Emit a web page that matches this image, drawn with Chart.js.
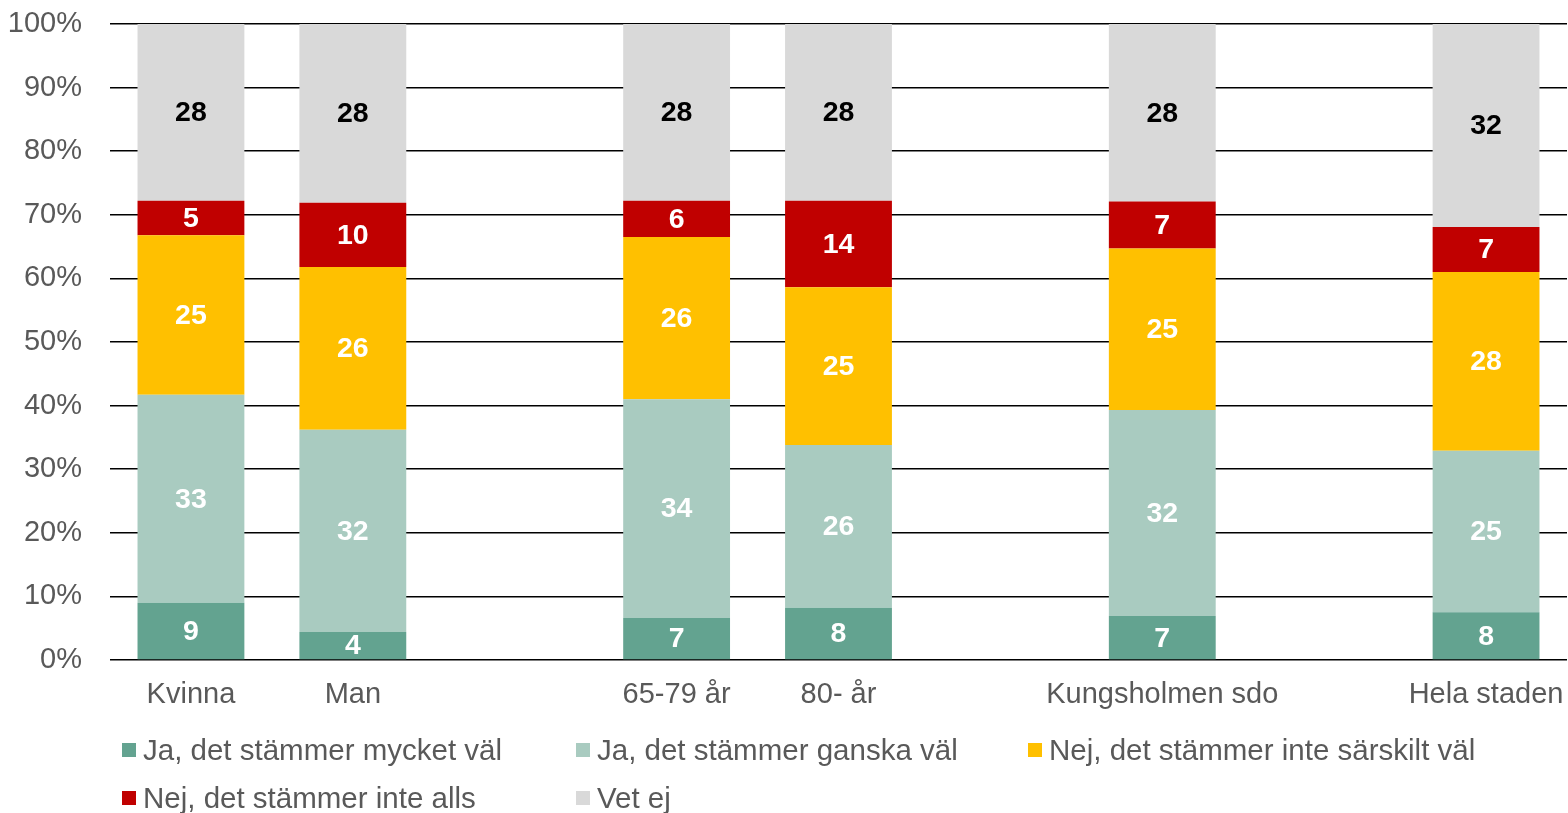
<!DOCTYPE html>
<html>
<head>
<meta charset="utf-8">
<script src="https://cdn.jsdelivr.net/npm/chart.js@4/dist/chart.umd.min.js"></script>
<style>
  html, body { margin: 0; padding: 0; background: #fff; overflow: hidden; }
  #wrap { position: relative; width: 1568px; height: 813px; }
  #legend { position: absolute; left: 0; top: 0; width: 1568px; height: 813px; pointer-events: none;
            font-family: "Liberation Sans", Arial, sans-serif; font-size: 29.5px; color: #595959; }
  .item { position: absolute; display: flex; align-items: center; white-space: nowrap; line-height: 1; }
  .box { width: 14px; height: 14px; margin-right: 7px; }
</style>
</head>
<body>
<div id="wrap">
  <canvas id="my-chart" width="1568" height="813"></canvas>
  <div id="legend"></div>
</div>
<script>
// ======== Data ========
const categories = ['Kvinna', 'Man', '', '65-79 år', '80- år', '', 'Kungsholmen sdo', '', 'Hela staden']
const yTicks = [0, 10, 20, 30, 40, 50, 60, 70, 80, 90, 100]

const seriesNames = [
    'Ja, det stämmer mycket väl',
    'Ja, det stämmer ganska väl',
    'Nej, det stämmer inte särskilt väl',
    'Nej, det stämmer inte alls',
    'Vet ej'
]
const mycketVal    = [9.0, 4.4, null, 6.6, 8.2, null, 6.9, null, 7.5]
const ganskaVal    = [32.7, 31.8, null, 34.4, 25.6, null, 32.4, null, 25.4]
const inteSarskilt = [25.1, 25.6, null, 25.5, 24.8, null, 25.4, null, 28.1]
const inteAlls     = [5.4, 10.1, null, 5.7, 13.6, null, 7.4, null, 7.1]
const vetEj        = [27.8, 28.1, null, 27.8, 27.8, null, 27.9, null, 31.9]

const seriesColors = ['#63A390', '#A9CBC0', '#FFC000', '#C00000', '#D9D9D9']
const labelColors = ['#fff', '#fff', '#fff', '#fff', '#000']
const allSeries = [mycketVal, ganskaVal, inteSarskilt, inteAlls, vetEj]

const FONT = '"Liberation Sans", Arial, sans-serif'

// draws the rounded value in the middle of each stacked segment
const segmentLabels = {
    id: 'segmentLabels',
    afterDatasetsDraw(chart) {
        const ctx = chart.ctx
        ctx.save()
        ctx.font = 'bold 28.5px ' + FONT
        ctx.textAlign = 'center'
        ctx.textBaseline = 'middle'
        chart.data.datasets.forEach((ds, i) => {
            chart.getDatasetMeta(i).data.forEach((bar, j) => {
                const v = ds.data[j]
                if (v === null || v === undefined) return
                ctx.fillStyle = labelColors[i]
                ctx.fillText(Math.round(v), bar.x, (bar.y + bar.base) / 2 + 1)
            })
        })
        ctx.restore()
    }
}

const ctx = document.getElementById('my-chart').getContext('2d')
new Chart(ctx, {
    type: 'bar',
    data: {
        labels: categories,
        datasets: allSeries.map((d, i) => ({
            label: seriesNames[i],
            data: d,
            backgroundColor: seriesColors[i],
            borderWidth: 0,
            barPercentage: 1,
            categoryPercentage: 0.66
        }))
    },
    options: {
        responsive: false,
        animation: false,
        layout: { padding: { top: 24, right: 1, left: 0, bottom: 0 } },
        plugins: { legend: { display: false }, tooltip: { enabled: false } },
        scales: {
            x: {
                stacked: true,
                grid: { display: false },
                border: { display: false },
                ticks: { color: '#595959', font: { family: FONT, size: 29 }, padding: 10, maxRotation: 0, autoSkip: false },
                afterFit(scale) {
                    scale.height = 153
                    scale.paddingLeft = 0
                    scale.paddingRight = 0
                }
            },
            y: {
                stacked: true,
                min: 0,
                max: 100,
                afterBuildTicks(scale) { scale.ticks = yTicks.map(v => ({ value: v })) },
                grid: { color: '#000', lineWidth: 1.5, drawTicks: false },
                border: { display: false },
                ticks: {
                    color: '#595959', font: { family: FONT, size: 29 }, padding: 28,
                    callback: v => v + '%'
                },
                afterFit(scale) {
                    scale.width = 110
                    scale.paddingTop = 0
                    scale.paddingBottom = 0
                }
            }
        }
    },
    plugins: [segmentLabels]
})

// legend laid out in columns like the original
const legendPos = [[122, 750], [576, 750], [1028, 750], [122, 798], [576, 798]]
const legendEl = document.getElementById('legend')
seriesNames.forEach((name, i) => {
    const item = document.createElement('div')
    item.className = 'item'
    item.style.left = legendPos[i][0] + 'px'
    item.style.top = (legendPos[i][1] - 14) + 'px'
    item.style.height = '28px'
    item.innerHTML = '<div class="box" style="background:' + seriesColors[i] + '"></div><span>' + name + '</span>'
    legendEl.appendChild(item)
})
</script>
</body>
</html>
